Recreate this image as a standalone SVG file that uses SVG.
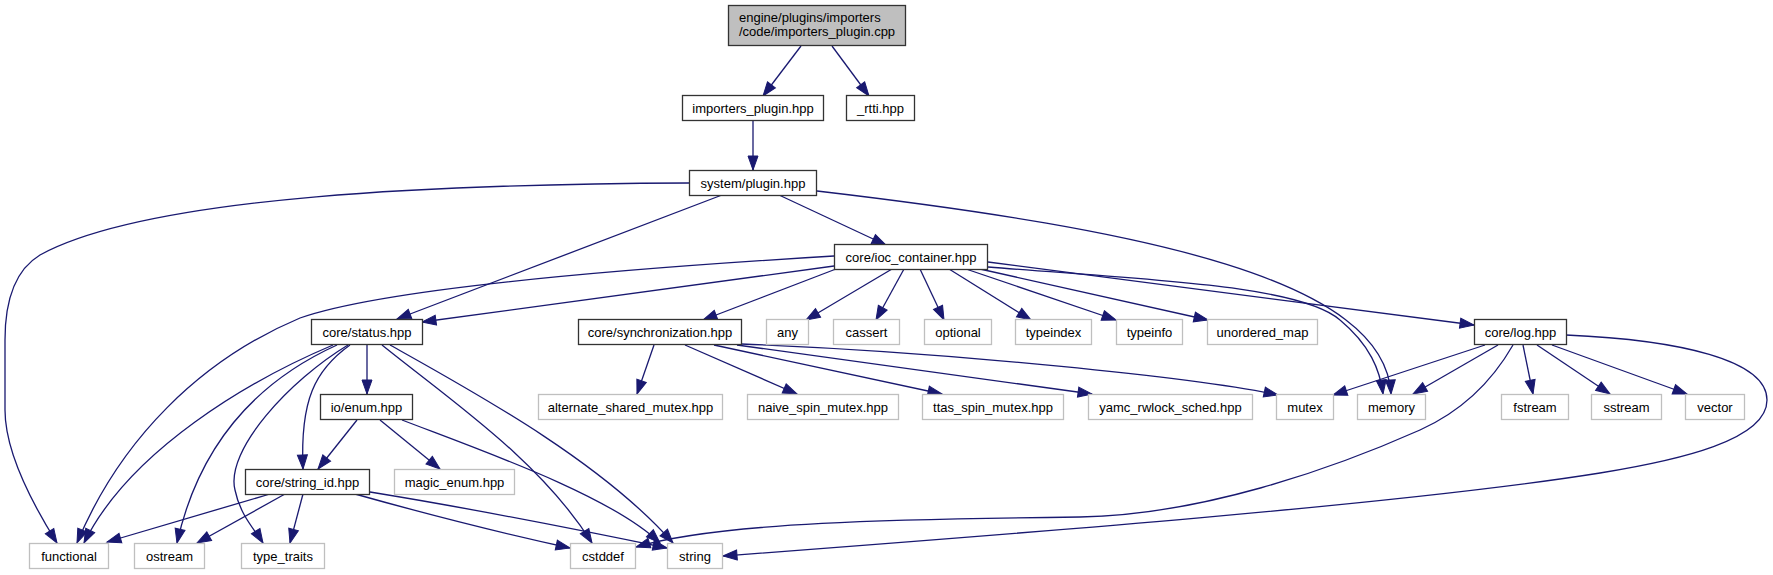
<svg xmlns="http://www.w3.org/2000/svg" width="1773" height="575" viewBox="0 0 1773 575">
<style>
.n rect{fill:#fff;stroke:#333;stroke-width:1.3}
.x rect{fill:#fff;stroke:#bfbfbf;stroke-width:1.3}
.r rect{fill:#bfbfbf;stroke:#333;stroke-width:1.3}
text{font-family:"Liberation Sans",Arial,sans-serif;font-size:13px;fill:#000;text-anchor:middle}
#edges path{fill:none;stroke:#191970;stroke-width:1.3;marker-end:url(#ah)}
</style>
<defs>
<marker id="ah" viewBox="0 0 14 10" refX="14" refY="5" markerWidth="14" markerHeight="10" markerUnits="userSpaceOnUse" orient="auto" overflow="visible">
<path d="M0,0 L14,5 L0,10 Z" fill="#191970" stroke="#191970" stroke-width="1"/>
</marker>
</defs>
<rect width="1773" height="575" fill="#fff"/>
<g id="edges">
<path d="M801,46 L763,96"/>
<path d="M832,46 L869,96"/>
<path d="M753,121 L753,170"/>
<path d="M689,183 C450,184 150,195 40,255 C15,270 5,300 5,340 L5,410 C5,450 30,500 57,543"/>
<path d="M722,195 L397,319"/>
<path d="M779,195 L886,245"/>
<path d="M817,191 C1150,230 1385,280 1391,394"/>
<path d="M834,256 C600,270 380,290 300,318 C200,360 120,440 77,543"/>
<path d="M834,266 L422,322"/>
<path d="M836,269 L703,320"/>
<path d="M892,269 L806,320"/>
<path d="M904,269 L876,320"/>
<path d="M920,269 L944,320"/>
<path d="M949,269 L1031,320"/>
<path d="M966,269 L1116,320"/>
<path d="M980,269 L1208,320"/>
<path d="M988,262 L1474,325"/>
<path d="M988,267 C1150,280 1300,285 1340,320 C1370,345 1380,370 1383,394"/>
<path d="M333,345 C250,380 130,450 84,543"/>
<path d="M337,345 C260,380 200,440 177,543"/>
<path d="M348,345 C290,380 225,450 235,490 C240,515 255,530 263,543"/>
<path d="M350,345 C315,370 300,400 303,469"/>
<path d="M367,345 L367,394"/>
<path d="M382,345 C450,400 540,460 592,543"/>
<path d="M390,345 C470,390 600,460 673,543"/>
<path d="M357,420 L318,469"/>
<path d="M380,420 L440,469"/>
<path d="M402,420 C480,450 610,495 660,543"/>
<path d="M270,494 L107,542"/>
<path d="M285,494 L197,543"/>
<path d="M303,494 L290,543"/>
<path d="M355,494 C430,515 510,535 570,548"/>
<path d="M370,492 C450,505 580,530 667,548"/>
<path d="M1485,345 L1333,395"/>
<path d="M1498,345 L1413,394"/>
<path d="M1513,345 C1490,385 1460,412 1420,430 C1330,470 1200,515 1080,517 C900,519 720,522 636,547"/>
<path d="M1523,345 L1533,394"/>
<path d="M1537,345 L1610,394"/>
<path d="M1552,345 L1687,394"/>
<path d="M1566,335 C1680,340 1767,360 1767,400 C1767,440 1680,460 1600,473 C1400,505 1000,535 723,556"/>
<path d="M654,345 L637,394"/>
<path d="M685,345 L797,394"/>
<path d="M714,345 L942,394"/>
<path d="M737,345 L1092,394"/>
<path d="M741,344 C950,352 1200,378 1278,395"/>
</g>
<g id="root" class="r"><rect x="728.5" y="5.5" width="177" height="40"/><text x="739" y="21.5" style="text-anchor:start">engine/plugins/importers</text><text x="739" y="36" style="text-anchor:start">/code/importers_plugin.cpp</text></g>
<g id="importers_plugin_hpp" class="n"><rect x="682.5" y="95.5" width="141" height="25"/><text x="753" y="112.5">importers_plugin.hpp</text></g>
<g id="rtti_hpp" class="n"><rect x="846.5" y="95.5" width="68" height="25"/><text x="880.5" y="112.5">_rtti.hpp</text></g>
<g id="system_plugin_hpp" class="n"><rect x="689.5" y="170.5" width="127" height="25"/><text x="753" y="187.5">system/plugin.hpp</text></g>
<g id="core_ioc_container_hpp" class="n"><rect x="834.5" y="244.5" width="153" height="25"/><text x="911" y="261.5">core/ioc_container.hpp</text></g>
<g id="core_status_hpp" class="n"><rect x="311.5" y="319.5" width="111" height="25"/><text x="367" y="336.5">core/status.hpp</text></g>
<g id="core_synchronization_hpp" class="n"><rect x="578.5" y="319.5" width="163" height="25"/><text x="660" y="336.5">core/synchronization.hpp</text></g>
<g id="any" class="x"><rect x="766.5" y="319.5" width="42" height="25"/><text x="787.5" y="336.5">any</text></g>
<g id="cassert" class="x"><rect x="833.5" y="319.5" width="66" height="25"/><text x="866.5" y="336.5">cassert</text></g>
<g id="optional" class="x"><rect x="924.5" y="319.5" width="67" height="25"/><text x="958" y="336.5">optional</text></g>
<g id="typeindex" class="x"><rect x="1015.5" y="319.5" width="76" height="25"/><text x="1053.5" y="336.5">typeindex</text></g>
<g id="typeinfo" class="x"><rect x="1116.5" y="319.5" width="66" height="25"/><text x="1149.5" y="336.5">typeinfo</text></g>
<g id="unordered_map" class="x"><rect x="1207.5" y="319.5" width="110" height="25"/><text x="1262.5" y="336.5">unordered_map</text></g>
<g id="core_log_hpp" class="n"><rect x="1474.5" y="319.5" width="92" height="25"/><text x="1520.5" y="336.5">core/log.hpp</text></g>
<g id="io_enum_hpp" class="n"><rect x="320.5" y="394.5" width="92" height="25"/><text x="366.5" y="411.5">io/enum.hpp</text></g>
<g id="alternate_shared_mutex_hpp" class="x"><rect x="538.5" y="394.5" width="184" height="25"/><text x="630.5" y="411.5">alternate_shared_mutex.hpp</text></g>
<g id="naive_spin_mutex_hpp" class="x"><rect x="747.5" y="394.5" width="151" height="25"/><text x="823" y="411.5">naive_spin_mutex.hpp</text></g>
<g id="ttas_spin_mutex_hpp" class="x"><rect x="922.5" y="394.5" width="141" height="25"/><text x="993" y="411.5">ttas_spin_mutex.hpp</text></g>
<g id="yamc_rwlock_sched_hpp" class="x"><rect x="1088.5" y="394.5" width="164" height="25"/><text x="1170.5" y="411.5">yamc_rwlock_sched.hpp</text></g>
<g id="mutex" class="x"><rect x="1276.5" y="394.5" width="57" height="25"/><text x="1305" y="411.5">mutex</text></g>
<g id="memory" class="x"><rect x="1357.5" y="394.5" width="68" height="25"/><text x="1391.5" y="411.5">memory</text></g>
<g id="fstream" class="x"><rect x="1501.5" y="394.5" width="67" height="25"/><text x="1535" y="411.5">fstream</text></g>
<g id="sstream" class="x"><rect x="1591.5" y="394.5" width="70" height="25"/><text x="1626.5" y="411.5">sstream</text></g>
<g id="vector" class="x"><rect x="1685.5" y="394.5" width="59" height="25"/><text x="1715" y="411.5">vector</text></g>
<g id="core_string_id_hpp" class="n"><rect x="245.5" y="469.5" width="124" height="25"/><text x="307.5" y="486.5">core/string_id.hpp</text></g>
<g id="magic_enum_hpp" class="x"><rect x="394.5" y="469.5" width="120" height="25"/><text x="454.5" y="486.5">magic_enum.hpp</text></g>
<g id="functional" class="x"><rect x="29.5" y="543.5" width="79" height="25"/><text x="69" y="560.5">functional</text></g>
<g id="ostream" class="x"><rect x="134.5" y="543.5" width="70" height="25"/><text x="169.5" y="560.5">ostream</text></g>
<g id="type_traits" class="x"><rect x="241.5" y="543.5" width="83" height="25"/><text x="283" y="560.5">type_traits</text></g>
<g id="cstddef" class="x"><rect x="570.5" y="543.5" width="65" height="25"/><text x="603" y="560.5">cstddef</text></g>
<g id="string" class="x"><rect x="667.5" y="543.5" width="55" height="25"/><text x="695" y="560.5">string</text></g>
</svg>
